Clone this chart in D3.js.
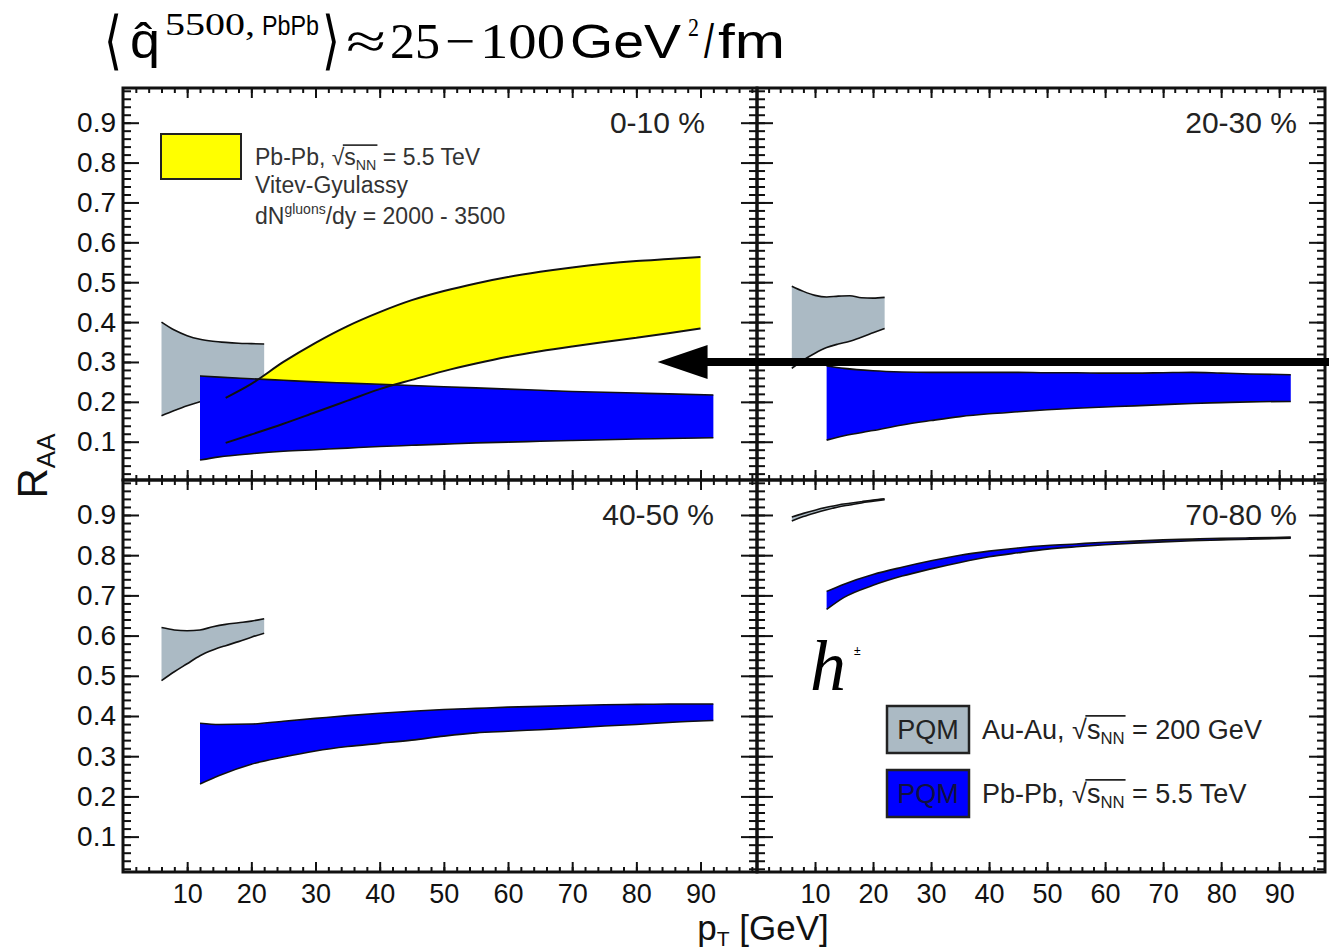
<!DOCTYPE html>
<html>
<head>
<meta charset="utf-8">
<style>
body { margin: 0; background: #fff; }
</style>
</head>
<body>
<script src="https://d3js.org/d3.v7.min.js"></script>
<script>
// ---- data ----
const centralities = ["0-10 %", "20-30 %", "40-50 %", "70-80 %"];

// PQM Au-Au 200 GeV (gray bands), one row per centrality
const auauPt = [6, 8, 10, 12, 14, 16, 18, 20, 22];
const auauHigh = [
  [0.400, 0.380, 0.366, 0.357, 0.352, 0.349, 0.347, 0.346, 0.345],
  [0.490, 0.477, 0.467, 0.463, 0.465, 0.466, 0.461, 0.460, 0.462],
  [0.620, 0.614, 0.612, 0.614, 0.622, 0.628, 0.632, 0.636, 0.642],
  [0.895, 0.904, 0.912, 0.919, 0.925, 0.929, 0.933, 0.937, 0.940]
];
const auauLow = [
  [0.165, 0.178, 0.190, 0.200, 0.208, 0.216, 0.224, 0.232, 0.240],
  [0.284, 0.305, 0.322, 0.336, 0.345, 0.352, 0.362, 0.373, 0.384],
  [0.488, 0.510, 0.530, 0.550, 0.564, 0.575, 0.585, 0.596, 0.606],
  [0.885, 0.896, 0.905, 0.913, 0.920, 0.925, 0.930, 0.934, 0.938]
];

// PQM Pb-Pb 5.5 TeV (blue bands)
const pbpbPt = [12, 15, 20, 25, 30, 35, 40, 45, 50, 55, 60, 65, 70, 75, 80, 85, 92];
const pbpbHigh = [
  [0.265, 0.262, 0.258, 0.254, 0.250, 0.247, 0.244, 0.241, 0.238, 0.235, 0.232, 0.229, 0.226, 0.224, 0.222, 0.220, 0.217],
  [0.290, 0.284, 0.278, 0.275, 0.274, 0.274, 0.274, 0.274, 0.273, 0.273, 0.272, 0.272, 0.273, 0.274, 0.272, 0.270, 0.268],
  [0.382, 0.379, 0.380, 0.387, 0.394, 0.401, 0.407, 0.412, 0.416, 0.419, 0.422, 0.424, 0.426, 0.428, 0.429, 0.430, 0.430],
  [0.710, 0.728, 0.752, 0.770, 0.786, 0.800, 0.810, 0.818, 0.824, 0.828, 0.832, 0.835, 0.838, 0.840, 0.842, 0.843, 0.845]
];
const pbpbLow = [
  [0.054, 0.062, 0.070, 0.076, 0.080, 0.084, 0.088, 0.091, 0.094, 0.097, 0.099, 0.101, 0.103, 0.105, 0.107, 0.108, 0.110],
  [0.104, 0.115, 0.128, 0.142, 0.153, 0.163, 0.170, 0.175, 0.180, 0.184, 0.187, 0.190, 0.193, 0.196, 0.198, 0.200, 0.201],
  [0.231, 0.252, 0.280, 0.298, 0.313, 0.324, 0.332, 0.340, 0.350, 0.358, 0.362, 0.366, 0.370, 0.375, 0.379, 0.384, 0.389],
  [0.665, 0.695, 0.725, 0.748, 0.766, 0.782, 0.796, 0.806, 0.815, 0.821, 0.826, 0.830, 0.833, 0.836, 0.838, 0.840, 0.842]
];

// Vitev-Gyulassy, 0-10 % only (yellow band)
const vitevPt = [16, 20, 25, 30, 35, 40, 45, 50, 55, 60, 65, 70, 75, 80, 85, 90];
const vitevHigh = [0.210, 0.245, 0.300, 0.348, 0.390, 0.425, 0.455, 0.478, 0.497, 0.513, 0.526, 0.537, 0.546, 0.553, 0.558, 0.563];
const vitevLow = [0.097, 0.118, 0.145, 0.174, 0.203, 0.232, 0.255, 0.277, 0.296, 0.313, 0.327, 0.339, 0.350, 0.361, 0.372, 0.384];

const xTicks = [10, 20, 30, 40, 50, 60, 70, 80, 90];
const yTicks = [0.1, 0.2, 0.3, 0.4, 0.5, 0.6, 0.7, 0.8, 0.9];

// arrow annotation in the 0-10 % panel
const arrowRaa = 0.30;
const arrowTipPt = 83.3;

// ---- layout ----
const W = 1329, H = 952;
const colBox = [[123, 757], [757, 1325]];
const colDomain = [[0, 98.8], [0, 97.9]];
const rowBox = [[480, 88], [872, 480]];
const rowDomain = [[0.004, 0.987], [0.012, 0.987]];

const sans = "Liberation Sans, Arial, Helvetica, sans-serif";
const serif = "Liberation Serif, Times New Roman, serif";
const grayFill = "#abbac4", blueFill = "#0000ff", yellowFill = "#ffff00";

const svg = d3.select("body").append("svg")
    .attr("width", W).attr("height", H)
    .attr("font-family", sans);

const defs = svg.append("defs");

function band(pt, hi, lo, x, y) {
  const rows = pt.map((p, i) => ({p: p, hi: hi[i], lo: lo[i]}));
  const area = d3.area().curve(d3.curveMonotoneX)
      .x(d => x(d.p)).y0(d => y(d.lo)).y1(d => y(d.hi));
  const hiLine = d3.line().curve(d3.curveMonotoneX).x(d => x(d.p)).y(d => y(d.hi));
  const loLine = d3.line().curve(d3.curveMonotoneX).x(d => x(d.p)).y(d => y(d.lo));
  return {rows, area, hiLine, loLine};
}

const panels = [];
centralities.forEach(function(label, k) {
  const r = Math.floor(k / 2), c = k % 2;
  const x = d3.scaleLinear().domain(colDomain[c]).range(colBox[c]);
  const y = d3.scaleLinear().domain(rowDomain[r]).range(rowBox[r]);
  panels.push({k, r, c, x, y, label});

  defs.append("clipPath").attr("id", "clip" + k)
    .append("rect")
      .attr("x", colBox[c][0]).attr("y", rowBox[r][1])
      .attr("width", colBox[c][1] - colBox[c][0])
      .attr("height", rowBox[r][0] - rowBox[r][1]);

  const g = svg.append("g").attr("clip-path", "url(#clip" + k + ")");

  const gray = band(auauPt, auauHigh[k], auauLow[k], x, y);
  g.append("path").attr("d", gray.area(gray.rows)).attr("fill", grayFill);
  g.append("path").attr("d", gray.hiLine(gray.rows)).attr("fill", "none").attr("stroke", "#111").attr("stroke-width", 1.6);
  g.append("path").attr("d", gray.loLine(gray.rows)).attr("fill", "none").attr("stroke", "#111").attr("stroke-width", 1.6);

  let vit = null;
  if (k === 0) {
    vit = band(vitevPt, vitevHigh, vitevLow, x, y);
    g.append("path").attr("d", vit.area(vit.rows)).attr("fill", yellowFill);
  }

  const blue = band(pbpbPt, pbpbHigh[k], pbpbLow[k], x, y);
  g.append("path").attr("d", blue.area(blue.rows)).attr("fill", blueFill);
  g.append("path").attr("d", blue.hiLine(blue.rows)).attr("fill", "none").attr("stroke", "#111").attr("stroke-width", 1.6);
  g.append("path").attr("d", blue.loLine(blue.rows)).attr("fill", "none").attr("stroke", "#111").attr("stroke-width", 1.6);

  if (vit) {
    g.append("path").attr("d", vit.hiLine(vit.rows)).attr("fill", "none").attr("stroke", "#111").attr("stroke-width", 2);
    g.append("path").attr("d", vit.loLine(vit.rows)).attr("fill", "none").attr("stroke", "#111").attr("stroke-width", 2);
  }

  // centrality label
  svg.append("text")
      .attr("x", k === 2 ? 714 : (c === 0 ? 705 : 1297))
      .attr("y", rowBox[r][1] + 45)
      .attr("text-anchor", "end")
      .attr("font-size", 30)
      .attr("fill", "#222")
      .text(label);
});

// ---- frames and ticks ----
panels.forEach(function(p) {
  const x = p.x, y = p.y;
  const x0 = colBox[p.c][0], x1 = colBox[p.c][1];
  const yB = rowBox[p.r][0], yT = rowBox[p.r][1];
  const xMinor = d3.range(2, colDomain[p.c][1], 2);
  const yMinor = d3.range(0.02, 0.99, 0.02).filter(v => v > rowDomain[p.r][0] && v < rowDomain[p.r][1]);

  function axis(gen, pos, vals, size, labels) {
    const a = gen.tickValues(vals).tickSize(size).tickPadding(8)
        .tickFormat(labels ? d3.format(labels) : "");
    const ag = svg.append("g").attr("transform", pos).call(a);
    ag.select(".domain").remove();
    ag.attr("font-family", sans);
    ag.selectAll("line").attr("stroke", "#111").attr("stroke-width", 2);
    ag.selectAll("text").attr("font-size", 27).attr("fill", "#111");
    return ag;
  }
  // bottom
  axis(d3.axisBottom(x), "translate(0," + yB + ")", xMinor, -5);
  const xb = axis(d3.axisBottom(x), "translate(0," + yB + ")", xTicks, -10, p.r === 1 ? "d" : null);
  xb.selectAll("text").attr("dy", "0.85em");
  // top
  axis(d3.axisTop(x), "translate(0," + yT + ")", xMinor, -5);
  axis(d3.axisTop(x), "translate(0," + yT + ")", xTicks, -10);
  // left
  axis(d3.axisLeft(y), "translate(" + x0 + ",0)", yMinor, -8);
  const yl = axis(d3.axisLeft(y), "translate(" + x0 + ",0)", yTicks, -16, p.c === 0 ? ".1f" : null);
  yl.selectAll("text").attr("x", -7).attr("font-size", 28);
  // right
  axis(d3.axisRight(y), "translate(" + x1 + ",0)", yMinor, -8);
  axis(d3.axisRight(y), "translate(" + x1 + ",0)", yTicks, -16);

  svg.append("rect")
      .attr("x", x0).attr("y", yT)
      .attr("width", x1 - x0).attr("height", yB - yT)
      .attr("fill", "none").attr("stroke", "#111").attr("stroke-width", 3);
});

// ---- sqrt(s_NN) helper ----
function sqrtText(parent, x, y, size, prefix, suffix, fill) {
  const t = parent.append("text").attr("x", x).attr("y", y)
      .attr("font-size", size).attr("fill", fill);
  t.append("tspan").text(prefix + "\u221A");
  t.append("tspan").text("s");
  t.append("tspan").attr("font-size", size * 0.62).attr("dy", size * 0.2).text("NN");
  t.append("tspan").attr("dy", -size * 0.2).text(" = " + suffix);
  const node = t.node();
  const i0 = (prefix + "\u221A").length;
  const xs = node.getEndPositionOfChar(i0 - 1).x;
  const xe = node.getEndPositionOfChar(i0 + 2).x;
  parent.append("line")
      .attr("x1", xs - 1.5).attr("x2", xe + 1)
      .attr("y1", y - size * 0.86).attr("y2", y - size * 0.86)
      .attr("stroke", fill).attr("stroke-width", 1.8);
  return t;
}

// ---- legend in 0-10 % panel ----
const leg1 = svg.append("g");
leg1.append("rect").attr("x", 161).attr("y", 134).attr("width", 80).attr("height", 45)
    .attr("fill", yellowFill).attr("stroke", "#222").attr("stroke-width", 2);
sqrtText(leg1, 255, 165, 23, "Pb-Pb, ", "5.5 TeV", "#333");
leg1.append("text").attr("x", 255).attr("y", 193).attr("font-size", 23).attr("fill", "#333")
    .text("Vitev-Gyulassy");
const dn = leg1.append("text").attr("x", 255).attr("y", 224).attr("font-size", 23).attr("fill", "#333");
dn.append("tspan").text("dN");
dn.append("tspan").attr("font-size", 14).attr("dy", -10).text("gluons");
dn.append("tspan").attr("dy", 10).text("/dy = 2000 - 3500");

// ---- legend in 70-80 % panel ----
const leg2 = svg.append("g");
[[grayFill, 706, "Au-Au, ", "200 GeV"], [blueFill, 770, "Pb-Pb, ", "5.5 TeV"]].forEach(function(e) {
  leg2.append("rect").attr("x", 887).attr("y", e[1]).attr("width", 82).attr("height", 47)
      .attr("fill", e[0]).attr("stroke", "#222").attr("stroke-width", 2.5);
  leg2.append("text").attr("x", 928).attr("y", e[1] + 33).attr("text-anchor", "middle")
      .attr("font-size", 27).attr("fill", e[0] === blueFill ? "#101040" : "#222").text("PQM");
  sqrtText(leg2, 982, e[1] + 33, 27, e[2], e[3], "#222");
});

// h± label
const h = svg.append("text").attr("x", 810).attr("y", 690).attr("fill", "#000");
h.append("tspan").attr("font-family", serif).attr("font-style", "italic")
    .attr("font-size", 72).text("h");
h.append("tspan").attr("font-size", 12).attr("dx", 8).attr("dy", -35).text("\u00B1");

// ---- axis titles ----
const xt = svg.append("text").attr("x", 763).attr("y", 940).attr("text-anchor", "middle")
    .attr("font-size", 35).attr("fill", "#111");
xt.append("tspan").text("p");
xt.append("tspan").attr("font-size", 21).attr("dy", 6).text("T");
xt.append("tspan").attr("dy", -6).text(" [GeV]");

const yt = svg.append("text").attr("transform", "translate(47,466) rotate(-90)")
    .attr("text-anchor", "middle").attr("font-size", 42).attr("fill", "#111");
yt.append("tspan").text("R");
yt.append("tspan").attr("font-size", 26).attr("dy", 8).text("AA");

// ---- title (pieces stretched to the widths seen in the reference) ----
const titleParts = [
  {t: "\u27E8", x: 104, y: 62, w: 18, size: 64, font: "DejaVu Sans", weight: 200},
  {t: "q\u0302", x: 130, y: 58, w: 30, size: 50},
  {t: "5500,", x: 165, y: 35, w: 90, size: 32, font: serif},
  {t: "PbPb", x: 262, y: 35, w: 57, size: 27},
  {t: "\u27E9", x: 322, y: 62, w: 18, size: 64, font: "DejaVu Sans", weight: 200},
  {t: "\u2248", x: 346, y: 58, w: 40, size: 50, font: serif},
  {t: "25", x: 390, y: 58, w: 50, size: 50, font: serif},
  {t: "\u2212", x: 445, y: 58, w: 30, size: 50, font: serif},
  {t: "100", x: 480, y: 58, w: 85, size: 50, font: serif},
  {t: "GeV", x: 570, y: 58, w: 111, size: 48},
  {t: "2", x: 688, y: 36, w: 11, size: 26, font: serif},
  {t: "/", x: 704, y: 58, w: 10, size: 48},
  {t: "fm", x: 718, y: 58, w: 67, size: 48}
];
const tg = svg.append("g");
titleParts.forEach(function(d) {
  tg.append("text")
      .attr("x", d.x).attr("y", d.y)
      .attr("font-size", d.size)
      .attr("font-family", d.font || sans)
      .attr("font-weight", d.weight || null)
      .attr("textLength", d.w)
      .attr("lengthAdjust", "spacingAndGlyphs")
      .attr("fill", "#000")
      .text(d.t);
});

// ---- arrow ----
const ax = panels[0].x, ay = panels[0].y;
const tipX = ax(arrowTipPt), tipY = ay(arrowRaa);
svg.append("line").attr("x1", tipX + 40).attr("x2", W).attr("y1", tipY).attr("y2", tipY)
    .attr("stroke", "#000").attr("stroke-width", 8);
svg.append("path")
    .attr("d", "M" + tipX + "," + tipY + "L" + (tipX + 50) + "," + (tipY - 17) +
               "L" + (tipX + 50) + "," + (tipY + 17) + "Z")
    .attr("fill", "#000");
</script>
</body>
</html>
